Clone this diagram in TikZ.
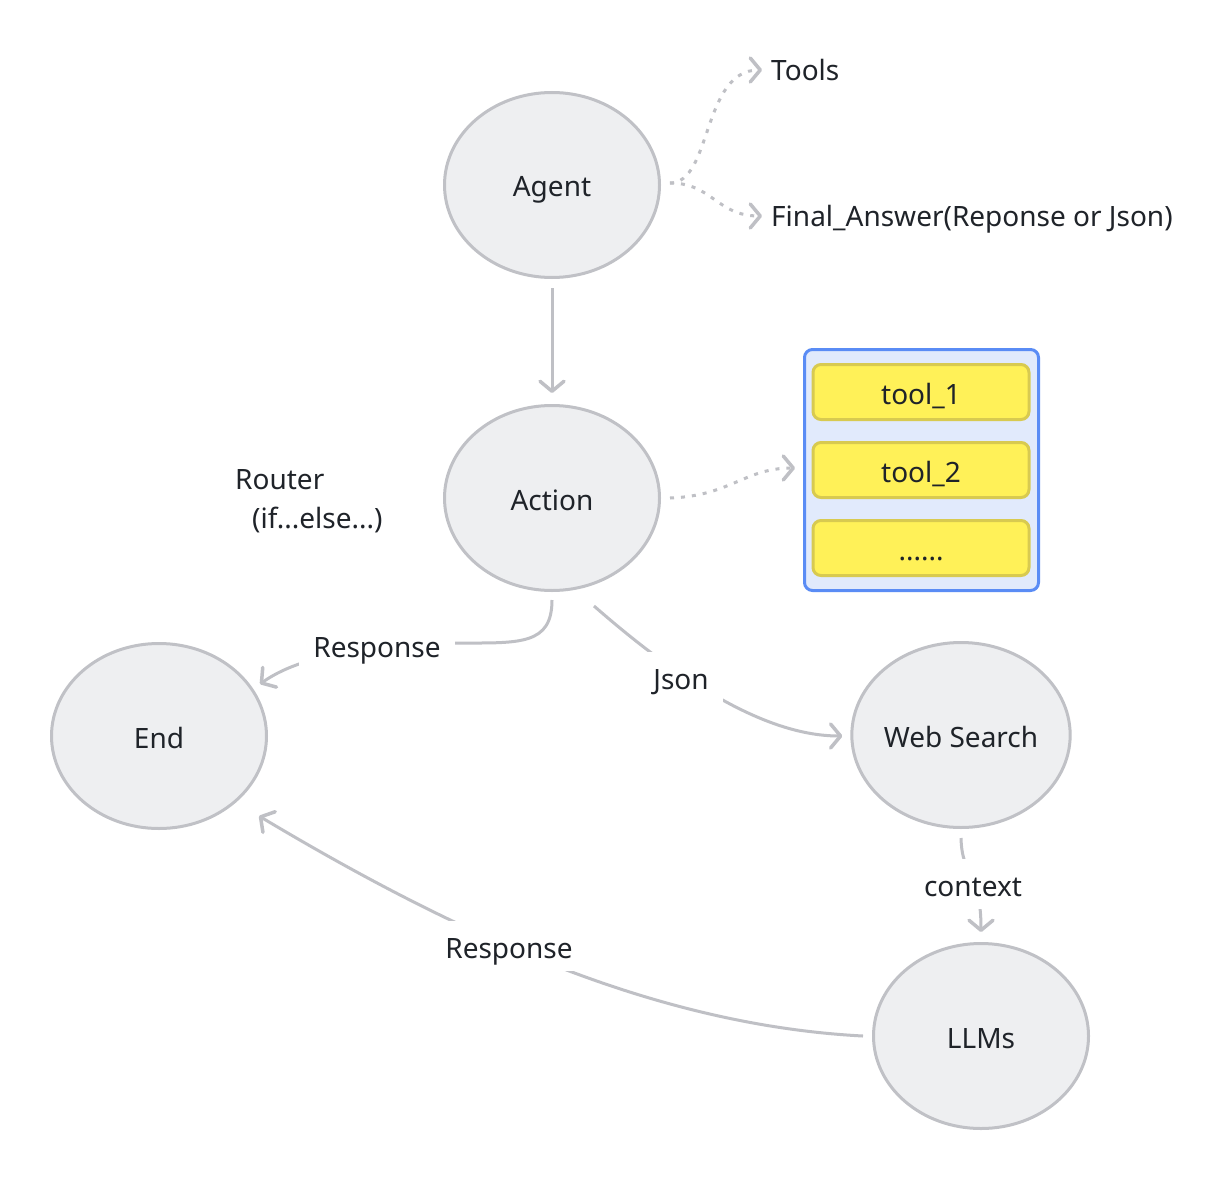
\documentclass[tikz,border=0pt]{standalone}
\usepackage{fontspec}
\setmainfont{Noto Sans}
\usetikzlibrary{shapes.geometric,arrows.meta,calc}
\definecolor{nodefill}{HTML}{EEEFF1}
\definecolor{nodeline}{HTML}{C0C1C6}
\definecolor{edgecol}{HTML}{BFC0C5}
\definecolor{txt}{HTML}{1F2329}
\definecolor{boxfill}{HTML}{E1EAFC}
\definecolor{boxline}{HTML}{5A8CF5}
\definecolor{yfill}{HTML}{FFF158}
\definecolor{yline}{HTML}{D8CA50}
\begin{document}
\begin{tikzpicture}[x=1pt,y=-1pt,
  every node/.style={font=\fontsize{28}{34}\selectfont, text=txt},
  lowered/.style={text height=24pt, text depth=0pt},
  state/.style={ellipse, draw=nodeline, fill=nodefill, line width=3pt,
    minimum width=215pt, minimum height=185pt, inner sep=0pt, lowered},
  tip/.style={-{Straight Barb[length=10pt,width=24pt,line width=3.5pt,round]}},
  edge/.style={draw=edgecol, line width=3pt, tip},
  dotline/.style={edge, dash pattern=on 4pt off 7pt},
  lab/.style={fill=white, inner xsep=14pt, inner ysep=13pt, lowered},
  container/.style={draw=boxline, fill=boxfill, line width=3pt, rounded corners=8pt,
    minimum width=234pt, minimum height=241pt, inner sep=0pt},
  toolbox/.style={draw=yline, fill=yfill, line width=3pt, rounded corners=8pt,
    minimum width=216pt, minimum height=55pt, inner sep=0pt, lowered},
  plain/.style={inner sep=0pt, anchor=west}
]
\useasboundingbox (0,0) rectangle (1230,1182);
\fill[white] (0,0) rectangle (1230,1182);

% nodes
\node[state] (agent) at (552,185) {Agent};
\node[state] (action) at (552,498) {Action};
\node[state] (end) at (159,736) {End};
\node[state] (web) at (961,735) {Web Search};
\node[state] (llms) at (981,1036) {LLMs};

\node[container] (tools) at (921.5,470) {};
\node[toolbox] (t1) at (921,392) {tool\_1};
\node[toolbox] (t2) at (921,470) {tool\_2};
\node[toolbox] (t3) at (921,548) {......};

\node[plain] (toolslab) at (771,70) {Tools};
\node[plain] (final) at (771,219) {Final\_Answer(Reponse or Json)};

\node[plain] (router) at (235,480) {Router};
\node[plain] (ifelse) at (252,520) {(if...else...)};

% connectors
\draw[edge] ($(agent.south)+(0,9)$) -- ($(action.north)+(0,-11)$);

\draw[dotline] ($(agent.east)+(9,-2)$) .. controls +(42,0) and +(-60,0) .. ($(toolslab.west)+(-9,0)$);
\draw[dotline] ($(agent.east)+(9,-2)$) .. controls +(42,0) and +(-45,0) .. ($(final.west)+(-9,-3)$);

\draw[dotline] ($(action.east)+(9,0)$) .. controls +(60,-2) and +(-50,0) .. ($(tools.west)+(-8,-2)$);

% Action -> End (Response)
\draw[edge] ($(action.south)+(0,8)$) .. controls +(0,45) and +(60,0) .. (460,643)
   .. controls (360,646) and (300,656) .. ($(end.center)+(101,-52)$);
\node[lab] at (377,645) {Response};

% Action -> Web Search (Json)
\draw[edge] ($(action.south)+(42,14)$) .. controls +(80,70) and +(-80,0) .. ($(web.west)+(-8,1)$);
\node[lab] at (681,677) {Json};

% Web Search -> LLMs (context)
\draw[edge] ($(web.south)+(0,9)$) .. controls +(1,40) and +(0,-60) .. ($(llms.north)+(0,-10)$);
\node[lab] at (973,884) {context};

% LLMs -> End (Response)
\draw[edge] ($(llms.west)+(-9,0)$) .. controls (650,1025) and (450,930) .. ($(end.center)+(100,80)$);
\node[lab] at (509,946) {Response};
\end{tikzpicture}
\end{document}
